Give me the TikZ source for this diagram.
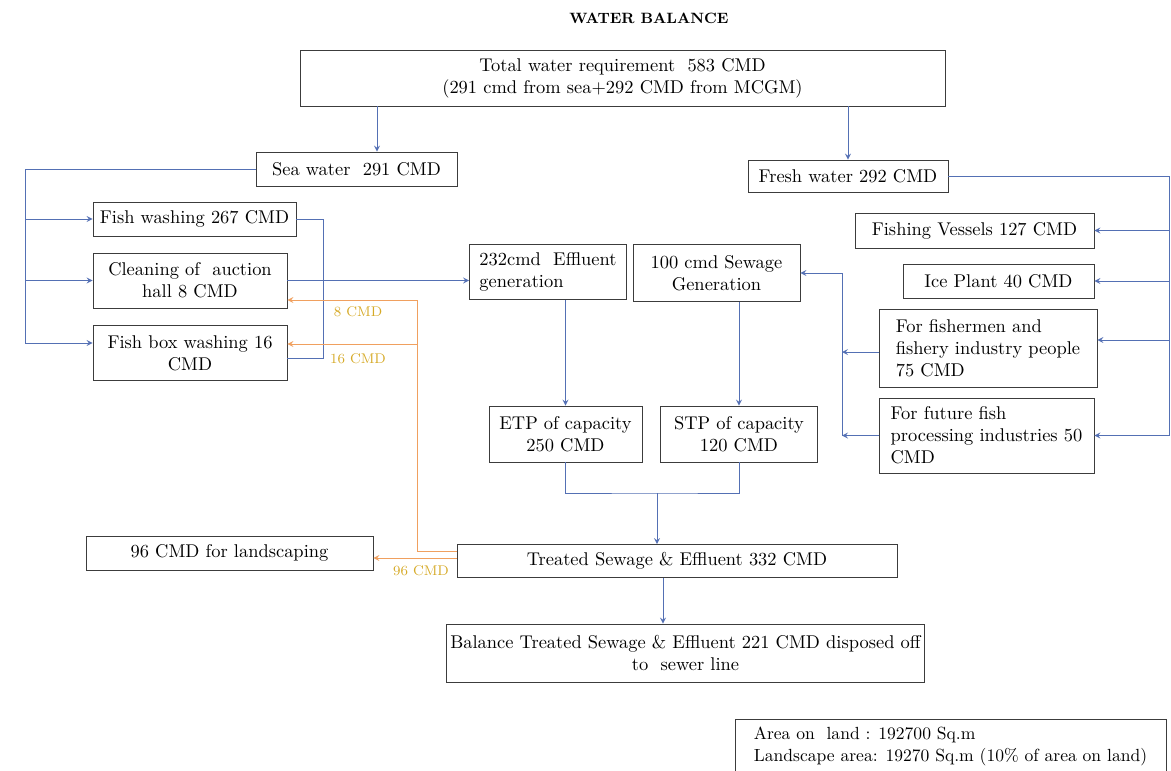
\documentclass[tikz,border=0pt]{standalone}
\usetikzlibrary{calc}
\definecolor{flowblue}{RGB}{84,112,180}
\definecolor{recycle}{RGB}{240,160,95}
\definecolor{qtygold}{RGB}{214,170,40}
\definecolor{boxgray}{RGB}{60,60,60}
\begin{document}
\begin{tikzpicture}[x=0.02cm,y=-0.02cm,>=stealth]
		\tikzset{box/.style = {shape=rectangle,draw=boxgray,line width=0.5pt,inner sep=2pt,font=\fontsize{10.5}{12.5}\selectfont}}
		\tikzset{line/.style = {draw=flowblue,line width=0.5pt}}
		\tikzset{flow/.style = {line,->}}
		\tikzset{backflow/.style = {draw=recycle,line width=0.5pt,->}}
		\tikzset{qty/.style = {text=qtygold,font=\fontsize{8}{9}\selectfont}}

		\useasboundingbox (0,0) rectangle (1171,771);

		\node[font=\bfseries\fontsize{8.5}{10}\selectfont] (title) at (649,18) {WATER BALANCE};
		\node[box,minimum width=12.9cm,minimum height=1.12cm,align=center] (total) at (622.5,78) {Total water requirement\ \ 583 CMD\\(291 cmd from sea+292 CMD from MCGM)};
		\node[box,minimum width=4.02cm,minimum height=0.68cm] (sea) at (356.5,169) {Sea water\ \ 291 CMD};
		\node[box,minimum width=4.0cm,minimum height=0.64cm] (fresh) at (848,176) {Fresh water 292 CMD};

		\node[box,minimum width=4.06cm,minimum height=0.68cm] (fishwash) at (194.5,219) {Fish washing 267 CMD};
		\node[box,minimum width=3.88cm,minimum height=1.1cm,align=center] (cleaning) at (190,280.5) {Cleaning of\ \ auction\\hall 8 CMD};
		\node[box,minimum width=3.88cm,minimum height=1.1cm,align=center] (boxwash) at (190,353) {Fish box washing 16\\CMD};

		\node[box,minimum width=3.14cm,minimum height=1.1cm,align=left] (effluent) at (548,272) {232cmd\ \ Effluent\\generation};
		\node[box,minimum width=3.34cm,minimum height=1.14cm,align=center] (sewage) at (716.5,273) {100 cmd Sewage\\Generation};
		\node[box,minimum width=3.06cm,minimum height=1.12cm,align=center] (etp) at (565.5,434) {ETP of capacity\\250 CMD};
		\node[box,minimum width=3.14cm,minimum height=1.12cm,align=center] (stp) at (739,434) {STP of capacity\\120 CMD};

		\node[box,minimum width=4.78cm,minimum height=0.7cm] (vessels) at (974.5,230.5) {Fishing Vessels 127 CMD};
		\node[box,minimum width=3.82cm,minimum height=0.68cm] (ice) at (998.5,281) {Ice Plant 40 CMD};
		\node[box,minimum width=4.36cm,minimum height=1.56cm,align=left] (fishermen) at (988,348) {For fishermen and\\fishery industry people\\75 CMD};
		\node[box,minimum width=4.3cm,minimum height=1.5cm,align=left] (future) at (986.5,435.5) {For future fish\\processing industries 50\\CMD};

		\node[box,minimum width=8.8cm,minimum height=0.66cm] (treated) at (677,561) {Treated Sewage \& Effluent 332 CMD};
		\node[box,minimum width=9.5cm,minimum height=1.16cm,align=center] (balance) at (685.5,653) {Balance Treated Sewage \& Effluent 221 CMD disposed off\\to\ \ sewer line};
		\node[box,minimum width=5.74cm,minimum height=0.68cm] (landscape) at (229.5,553) {96 CMD for landscaping};
		\node[box,minimum width=8.62cm,minimum height=1.08cm,align=left,font=\fontsize{10}{12.5}\selectfont] (area) at (950.5,746) {Area on\ \ land : 192700 Sq.m\\Landscape area: 19270 Sq.m (10\% of area on land)};

		\coordinate (seadrop) at (377,0);
		\coordinate (lbus) at (25,0);
		\coordinate (obus) at (323,0);
		\coordinate (rbus) at (1169,0);
		\coordinate (sbus) at (842,0);
		\coordinate (rbus2) at (417,0);
		\coordinate (baldrop) at (663,0);
		\coordinate (join) at (657,493);
		\coordinate (bwin) at ($(boxwash.west)+(0,-10)$);
		\coordinate (bwout) at ($(boxwash.east)+(0,5)$);
		\coordinate (clin) at ($(cleaning.east)+(0,19.5)$);
		\coordinate (bwback) at ($(boxwash.east)+(0,-9)$);
		\coordinate (lsout) at ($(treated.west)+(0,-3)$);
		\coordinate (fmout) at ($(fishermen.west)+(0,4)$);
		\coordinate (fmin) at ($(fishermen.east)+(0,-8)$);

		\draw[flow] (total.south -| seadrop) -- (sea.north -| seadrop);
		\draw[flow] (total.south -| fresh.north) -- (fresh.north);

		\draw[line] (sea.west) -| (lbus |- bwin);
		\draw[flow] (lbus |- bwin) -- (bwin);
		\foreach \n in {fishwash,cleaning}
			\draw[flow] (lbus |- \n.west) -- (\n.west);

		\draw[line] (fishwash.east) -| (obus |- bwout) -- (bwout);
		\draw[flow] (cleaning.east) -- (cleaning.east -| effluent.west);

		\draw[flow] (effluent.south -| etp.north) -- (etp.north);
		\draw[flow] (sewage.south -| stp.north) -- (stp.north);
		\draw[line] (etp.south) |- (join) -| (stp.south);
		\draw[flow] (join) -- (join |- treated.north);
		\draw[flow] (treated.south -| baldrop) -- (balance.north -| baldrop);

		\draw[line] (fresh.east) -| (rbus |- future.east);
		\foreach \n in {vessels,ice,future}
			\draw[flow] (rbus |- \n.east) -- (\n.east);
		\draw[flow] (rbus |- fmin) -- (fmin);
		\draw[flow] (fmout) -- (fmout -| sbus);
		\draw[flow] (future.west) -- (future.west -| sbus);
		\draw[flow] (sbus |- future.west) -- (sbus |- sewage.east) -- (sewage.east);

		\draw[backflow] ($(treated.west)+(0,-10)$) -| (rbus2 |- clin) -- (clin);
		\draw[backflow] (rbus2 |- bwback) -- (bwback);
		\draw[backflow] (lsout) -- (lsout -| landscape.east);

		\node[qty] (q8) at (358,312) {8 CMD};
		\node[qty] (q16) at (358,359) {16 CMD};
		\node[qty] (q96) at (421,571) {96 CMD};

	\end{tikzpicture}
\end{document}
